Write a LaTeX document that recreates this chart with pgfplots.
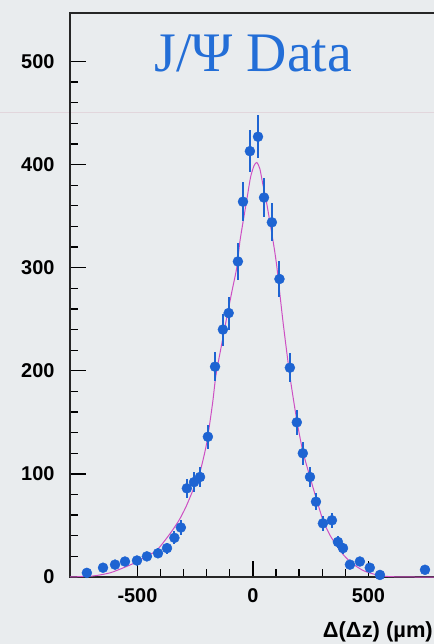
\documentclass[border=0pt]{standalone}
\usepackage{fontspec}
\setmainfont{Liberation Sans}
\setsansfont{Liberation Sans}
\newfontfamily\titlefont{Liberation Serif}
\usepackage{pgfplots}
\pgfplotsset{compat=1.18}
\usepackage{pgfplotstable}
\definecolor{bgc}{RGB}{233,236,238}
\definecolor{ptblue}{RGB}{30,100,210}
\definecolor{fitc}{RGB}{205,80,195}
\definecolor{titleblue}{RGB}{35,110,215}

\pgfplotstableread{
x y ex ey
-719 4 15 2.0
-649 9 15 3.0
-597 12 15 3.5
-554 15 15 3.9
-502 16 15 4.0
-459 20 15 4.5
-411 23 15 4.8
-372 28 15 5.3
-340 38 15 6.2
-312 48 15 6.9
-286 86 15 9.3
-255 92 15 9.6
-229 97 15 9.8
-195 136 15 11.7
-164 204 15 14.3
-130 240 15 15.5
-105 256 15 16.0
-65 306 15 17.5
-43 364 15 19.1
-13 413 15 20.3
22 427 15 20.7
48 368 15 19.2
82 344 15 18.5
115 289 18 17.0
160 203 15 14.2
190 150 15 12.2
216 120 15 11.0
247 97 15 9.8
273 73 15 8.5
303 52 15 7.2
342 55 15 7.4
368 34 15 5.8
390 28 15 5.3
420 12 15 3.5
463 15 15 3.9
506 9 15 3.0
550 2 15 1.4
745 7 15 2.6
}\datatab

\pgfplotstableread{
x y
-792 0
-692 1
-619 4
-560 9
-519 13
-470 19
-416 26
-359 42
-320 55
-290 68
-260 84
-229 102
-200 130
-175 168
-160 196
-135 226
-113 252
-90 278
-70 300
-56 326
-40 348
-25 368
-10 388
5 399
17 402
30 396
42 382
60 362
90 322
104 300
130 248
160 195
190 152
216 122
247 97
277 74
305 54
335 40
364 30
390 22
420 15
450 10
480 6
520 3
560 1
600 0.3
700 0
810 0
}\fittab

\begin{document}
\begin{tikzpicture}
\fill[bgc] (-70bp,-67bp) rectangle (364bp,577bp);
\draw[color={rgb,255:red,226;green,214;blue,220}, line width=0.8bp] (-70bp,465bp) -- (364bp,465bp);
\begin{axis}[
  at={(0,0)}, anchor=south west,
  scale only axis,
  width=370bp, height=564bp,
  xmin=-792, xmax=810,
  ymin=0, ymax=547,
  tick pos=left,
  xtick={-500,0,500},
  ytick={0,100,200,300,400,500},
  minor x tick num=4,
  minor y tick num=4,
  major tick length=16bp,
  minor tick length=8bp,
  every tick/.style={black, line width=1.3bp},
  axis line style={black!85, line width=1.6bp},
  /pgf/number format/assume math mode=true,
  tick label style={font=\fontsize{20}{22}\selectfont\bfseries},
  yticklabel style={xshift=-12bp},
  xticklabel style={yshift=-8bp},
  clip=false,
]
\addplot[fitc, line width=1bp, smooth, tension=0.4] table[x=x, y=y] {\fittab};
\addplot[only marks, mark=*, mark size=5bp, ptblue,
  mark options={fill=ptblue, draw=ptblue},
  error bars/.cd, y dir=both, y explicit, x dir=both, x explicit,
  error bar style={ptblue, line width=2bp}, error mark=none]
  table[x=x, y=y, x error=ex, y error=ey] {\datatab};
\node[anchor=base, text=titleblue, font=\titlefont\fontsize{56}{60}\selectfont] at (axis cs:2,490) {J/Ψ Data};
\end{axis}
\node[anchor=south east, inner sep=0pt, font=\fontsize{22}{24}\selectfont\bfseries] at (363bp,-65bp) {Δ(Δz) (µm)};
\pgfresetboundingbox
\path (-70bp,-67bp) rectangle (364bp,577bp);
\end{tikzpicture}
\end{document}
